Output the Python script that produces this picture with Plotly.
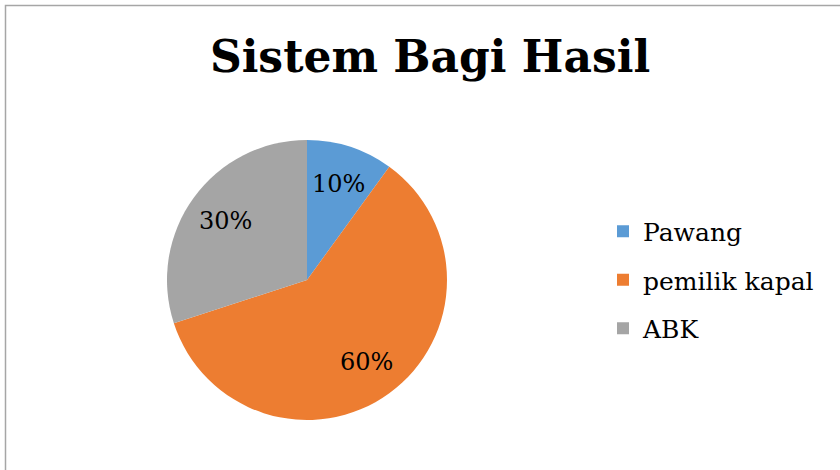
import math
import plotly.graph_objects as go

categories = ["Pawang", "pemilik kapal", "ABK"]
values = [10, 60, 30]
colors = ["#5B9BD5", "#ED7D31", "#A5A5A5"]
title_text = "Sistem Bagi Hasil"

W, H = 840, 470
CX, CY, R = 307, 280, 140  # pie centre / radius in px
fig = go.Figure()
fig.add_trace(go.Pie(
    labels=categories, values=values, sort=False, direction="clockwise", rotation=0,
    marker=dict(colors=colors, line=dict(color="white", width=0)),
    textinfo="none",
    domain=dict(x=[(CX - R) / W, (CX + R) / W], y=[1 - (CY + R) / H, 1 - (CY - R) / H]),
    showlegend=False, hoverinfo="label+percent",
))
for i, (c, col) in enumerate(zip(categories, colors)):
    fig.add_trace(go.Scatter(
        x=[None], y=[None], mode="markers", name=c, legendgroup=f"g{i}",
        marker=dict(symbol="square", size=12, color=col),
    ))

# percentage labels placed along each slice's mid-angle, derived from the values
total = sum(values)
annotations = []
start = 0.0
for v in values:
    mid = (start + v / 2) / total * 2 * math.pi
    start += v
    r = 0.72 * R
    x = CX + r * math.sin(mid)
    y = CY - r * math.cos(mid)
    annotations.append(dict(text=f"{round(v / total * 100)}%", x=x / W, y=1 - y / H, xref="paper", yref="paper",
                            showarrow=False, xanchor="center", yanchor="middle",
                            font=dict(family="DejaVu Serif", size=24, color="black")))

fig.update_layout(
    width=W, height=H, margin=dict(l=0, r=0, t=0, b=0),
    paper_bgcolor="white", plot_bgcolor="white",
    xaxis=dict(visible=False), yaxis=dict(visible=False),
    title=dict(text=f"<b>{title_text}</b>", x=430 / W, xanchor="center", y=1 - 57 / H, yanchor="middle",
               font=dict(family="DejaVu Serif", size=44, color="black")),
    legend=dict(x=603 / W, xanchor="left", y=1 - 280 / H, yanchor="middle",
                font=dict(family="DejaVu Serif", size=25, color="black"),
                tracegroupgap=13, itemwidth=30, bgcolor="rgba(0,0,0,0)"),
    annotations=annotations,
    shapes=[dict(type="rect", xref="paper", yref="paper", x0=5.5 / W, x1=1.1, y0=-0.1, y1=1 - 5.5 / H,
                 line=dict(color="#A6A6A6", width=1.5), layer="below")],
)
fig.write_html("out.html", config={"displayModeBar": False},
               post_script="document.body.style.margin='0';")
